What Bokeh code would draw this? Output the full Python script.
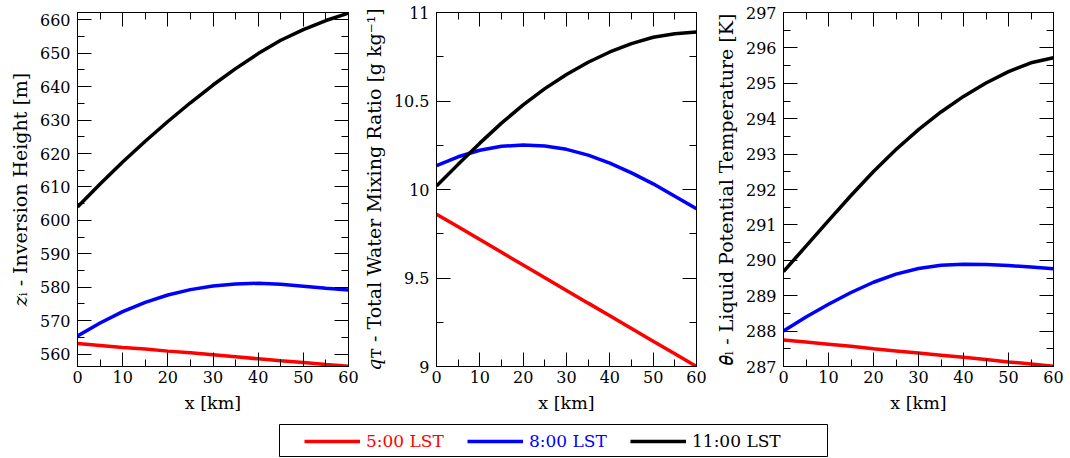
from bokeh.plotting import figure
from bokeh.models import (Range1d, LinearAxis, SingleIntervalTicker, NumeralTickFormatter,
                          Legend, LegendItem, BoxAnnotation, CustomJSTickFormatter)
from bokeh.layouts import row, column
from bokeh.embed import file_html
from bokeh.resources import INLINE

# ---------------- data ----------------
x_km = [0, 5, 10, 15, 20, 25, 30, 35, 40, 45, 50, 55, 60]

zi_0500 = [563.2, 562.6, 562.0, 561.5, 560.9, 560.4, 559.8, 559.2, 558.6, 558.0, 557.5, 556.9, 556.4]
zi_0800 = [565.4, 569.3, 572.7, 575.5, 577.7, 579.3, 580.4, 581.0, 581.2, 580.9, 580.3, 579.7, 579.2]
zi_1100 = [604.0, 610.9, 617.5, 623.7, 629.6, 635.2, 640.5, 645.4, 649.9, 653.9, 657.1, 659.8, 662.0]

qt_0500 = [9.86, 9.79, 9.717, 9.645, 9.573, 9.502, 9.43, 9.358, 9.287, 9.215, 9.143, 9.072, 9.0]
qt_0800 = [10.135, 10.185, 10.222, 10.244, 10.252, 10.246, 10.227, 10.194, 10.149, 10.094, 10.032, 9.962, 9.892]
qt_1100 = [10.02, 10.142, 10.262, 10.375, 10.478, 10.57, 10.65, 10.719, 10.777, 10.824, 10.86, 10.88, 10.89]

th_0500 = [287.75, 287.69, 287.63, 287.57, 287.5, 287.44, 287.38, 287.32, 287.26, 287.2, 287.13, 287.07, 287.01]
th_0800 = [288.0, 288.40, 288.76, 289.09, 289.38, 289.61, 289.77, 289.86, 289.89, 289.88, 289.85, 289.81, 289.76]
th_1100 = [289.68, 290.40, 291.12, 291.83, 292.51, 293.13, 293.69, 294.19, 294.63, 295.01, 295.33, 295.58, 295.72]

series_names = ["5:00 LST", "8:00 LST", "11:00 LST"]
series_colors = ["#ff0000", "#0000ff", "#000000"]

xlabel = "x [km]"
ylabels = ["\U0001D467\u1D62 - Inversion Height [m]",
           "\U0001D45E\u1D1B - Total Water Mixing Ratio [g kg\u207B\u00B9]",
           "\U0001D703\u2097 - Liquid Potential Temperature [K]"]

FONT = "DejaVu Serif"
TICK_FS = "16px"
XLABEL_FS = "17.5px"
YLABEL_FS = "19px"
LW = 3.5


def style_axis(ax, ticker, show_labels=True):
    ax.ticker = ticker
    ax.major_tick_in = 14
    ax.major_tick_out = 0
    ax.minor_tick_in = 7
    ax.minor_tick_out = 0
    ax.axis_line_color = "black"
    ax.major_tick_line_color = "black"
    ax.minor_tick_line_color = "black"
    ax.major_label_text_font = FONT
    ax.major_label_text_font_size = TICK_FS
    ax.major_label_text_color = "black"
    ax.axis_label_text_font = FONT
    ax.axis_label_text_font_style = "normal"
    ax.axis_label_text_color = "black"
    if not show_labels:
        ax.formatter = CustomJSTickFormatter(code="return ''")
        ax.major_label_standoff = 0


def make_panel(width, bl, br, bt, ylabel, yr, ymaj, ys, fmt=None):
    p = figure(width=width, height=416, x_range=Range1d(0, 60), y_range=Range1d(*yr),
               output_backend="svg", toolbar_location=None,
               min_border_left=bl, min_border_right=br, min_border_top=bt, min_border_bottom=50)
    p.xgrid.visible = False
    p.ygrid.visible = False
    p.outline_line_color = "black"
    p.background_fill_color = "white"
    p.border_fill_color = "white"

    style_axis(p.xaxis[0], SingleIntervalTicker(interval=10, num_minor_ticks=2))
    p.xaxis[0].axis_label = xlabel
    p.xaxis[0].axis_label_text_font_size = XLABEL_FS
    p.xaxis[0].major_label_standoff = 4
    p.xaxis[0].axis_label_standoff = 7

    style_axis(p.yaxis[0], SingleIntervalTicker(interval=ymaj, num_minor_ticks=2))
    p.yaxis[0].axis_label = ylabel
    p.yaxis[0].axis_label_text_font_size = YLABEL_FS
    p.yaxis[0].major_label_standoff = 7
    p.yaxis[0].axis_label_standoff = 6
    if fmt is not None:
        p.yaxis[0].formatter = fmt

    top = LinearAxis()
    style_axis(top, SingleIntervalTicker(interval=10, num_minor_ticks=2), show_labels=False)
    p.add_layout(top, "above")
    right = LinearAxis()
    style_axis(right, SingleIntervalTicker(interval=ymaj, num_minor_ticks=2), show_labels=False)
    p.add_layout(right, "right")

    for y, c in zip(ys, series_colors):
        p.line(x_km, y, line_color=c, line_width=LW)
    return p


p1 = make_panel(359, 77, 11, 0, ylabels[0], (556.3, 662.2), 10, [zi_0500, zi_0800, zi_1100])
p2 = make_panel(351, 74, 14, 12, ylabels[1], (9.0, 11.0), 0.5, [qt_0500, qt_0800, qt_1100],
                fmt=NumeralTickFormatter(format="0.[0]"))
p3 = make_panel(360, 73, 17, 12, ylabels[2], (287.0, 297.0), 1, [th_0500, th_0800, th_1100])

# ---------------- legend strip ----------------
lf = figure(width=1070, height=41, x_range=Range1d(0, 1070), y_range=Range1d(0, 41),
            output_backend="svg", toolbar_location=None,
            x_axis_location=None, y_axis_location=None, min_border=0)
lf.xgrid.visible = False
lf.ygrid.visible = False
lf.outline_line_color = None
lf.background_fill_color = "white"
lf.border_fill_color = "white"

lf.add_layout(BoxAnnotation(left=279, right=827, bottom=1, top=33, fill_color=None,
                            line_color="black", line_width=1, line_alpha=1))

legend_x = [304, 467, 630]
for name, c, ys, lx in zip(series_names, series_colors, [zi_0500, zi_0800, zi_1100], legend_x):
    r = lf.line(x_km, ys, line_color=c, line_width=LW)
    leg = Legend(items=[LegendItem(label=name, renderers=[r])], location=(lx, 6),
                 orientation="horizontal", padding=0, margin=0, spacing=0,
                 glyph_width=56, glyph_height=20, label_height=20, label_standoff=6,
                 label_text_font=FONT, label_text_font_size="17px", label_text_color=c,
                 border_line_color=None, background_fill_alpha=0)
    lf.add_layout(leg, "center")

layout = column(row(p1, p2, p3), lf)

open("out.html", "w").write(file_html(layout, INLINE))
